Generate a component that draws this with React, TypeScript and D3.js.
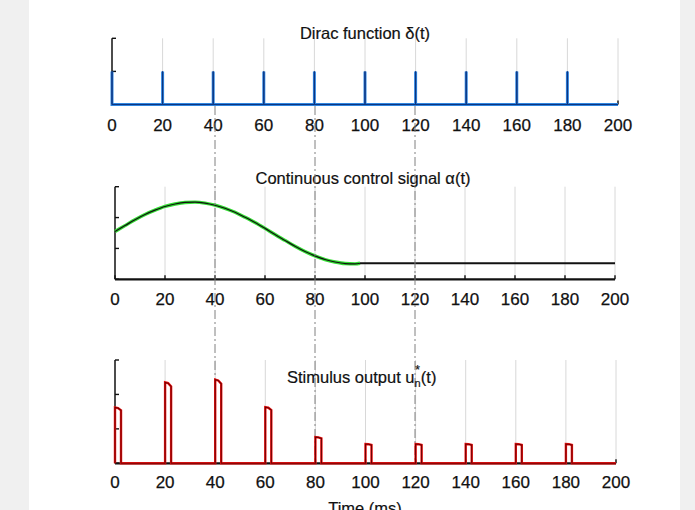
import React from "react";
import * as d3 from "d3";

// ---------- data ----------
const xTicks = [0, 20, 40, 60, 80, 100, 120, 140, 160, 180, 200];
const diracTimes = [0, 20, 40, 60, 80, 100, 120, 140, 160, 180];
const diracAmp = [1, 1, 1, 1, 1, 1, 1, 1, 1, 1];

const controlT = [0, 4, 8, 12, 16, 20, 24, 28, 32, 36, 40, 44, 48, 52, 56, 60, 64, 68, 72, 76, 80, 84, 88, 92, 96, 98];
const controlV = [1.55, 1.74, 1.93, 2.1, 2.24, 2.36, 2.44, 2.49, 2.5, 2.47, 2.4, 2.3, 2.17, 2.01, 1.84, 1.65, 1.45, 1.26, 1.07, 0.9, 0.76, 0.64, 0.56, 0.51, 0.5, 0.52];
const holdT = [98, 200];
const holdV = [0.52, 0.52];

const pulseTimes = [0, 20, 40, 60, 80, 100, 120, 140, 160, 180];
const pulseAmp = [1.62, 2.35, 2.43, 1.63, 0.76, 0.56, 0.56, 0.56, 0.56, 0.56];
const pulseWidth = 2.4;

const markerTimes = [40, 80, 120];

const yTicks1 = [0, 1, 2];
const yTicks2 = [0, 1, 2, 3];
const yTicks3 = [0, 1, 2, 3];

const titles = ["Dirac function δ(t)", "Continuous control signal α(t)", "Stimulus output u", "Time (ms)"];

const FONT = "'Liberation Sans', Arial, Helvetica, sans-serif";

type P = [number, number];

function Axes({ x, y, yTicks, gridTop, labelY }: { x: d3.ScaleLinear<number, number>; y: d3.ScaleLinear<number, number>; yTicks: number[]; gridTop: number; labelY: number }) {
  const y0 = y(0);
  return (
    <g>
      {xTicks.filter((t) => t > 0).map((t) => (
        <line key={"g" + t} x1={x(t)} x2={x(t)} y1={gridTop} y2={y0} stroke="#d8d8d8" strokeWidth={1} />
      ))}
      <line x1={x(0)} x2={x(200)} y1={y0} y2={y0} stroke="#111" strokeWidth={2.2} />
      {xTicks.map((t) => (
        <line key={"t" + t} x1={x(t)} x2={x(t)} y1={y0} y2={y0 - 4} stroke="#111" strokeWidth={1.4} />
      ))}
      <line x1={x(0)} x2={x(0)} y1={y(yTicks[yTicks.length - 1])} y2={y0} stroke="#111" strokeWidth={1.5} />
      {yTicks.map((v) => (
        <line key={"y" + v} x1={x(0)} x2={x(0) + 4} y1={y(v)} y2={y(v)} stroke="#111" strokeWidth={1.4} />
      ))}
      {xTicks.map((t) => (
        <text key={"l" + t} x={x(t)} y={labelY} textAnchor="middle" fontFamily={FONT} fontSize={17} fill="#111" stroke="#111" strokeWidth={0.25}>
          {t}
        </text>
      ))}
    </g>
  );
}

export default function App() {
  const x1 = d3.scaleLinear().domain([0, 200]).range([112, 618]);
  const y1 = d3.scaleLinear().domain([0, 2]).range([104.5, 38.3]);
  const x2 = d3.scaleLinear().domain([0, 200]).range([115, 615]);
  const y2 = d3.scaleLinear().domain([0, 3]).range([279.3, 186.7]);
  const x3 = d3.scaleLinear().domain([0, 200]).range([115, 616]);
  const y3 = d3.scaleLinear().domain([0, 3]).range([463.3, 360]);

  const diracPts: P[] = [];
  diracTimes.forEach((t, i) => {
    diracPts.push([t, 0], [t, diracAmp[i]], [t, 0]);
  });
  diracPts.push([200, 0]);
  const line1 = d3.line<P>().x((d) => x1(d[0])).y((d) => y1(d[1]));

  const ctrlPts: P[] = controlT.map((t, i) => [t, controlV[i]]);
  const holdPts: P[] = holdT.map((t, i) => [t, holdV[i]]);
  const line2 = d3.line<P>().x((d) => x2(d[0])).y((d) => y2(d[1])).curve(d3.curveMonotoneX);
  const line2s = d3.line<P>().x((d) => x2(d[0])).y((d) => y2(d[1]));

  const pulsePts: P[] = [];
  pulseTimes.forEach((t, i) => {
    const a = pulseAmp[i];
    pulsePts.push([t, 0], [t, a], [t + pulseWidth * 0.5, a * 0.99], [t + pulseWidth, a * 0.95], [t + pulseWidth, 0]);
  });
  pulsePts.push([200, 0]);
  const line3 = d3.line<P>().x((d) => x3(d[0])).y((d) => y3(d[1]));

  return (
    <>
      <style>{"body{margin:0;}"}</style>
      <svg width={695} height={510} style={{ display: "block" }}>
        <rect x={0} y={0} width={695} height={510} fill="#f0f0f0" />
        <rect x={29} y={0} width={651} height={510} fill="#ffffff" />

        {/* Panel 1 */}
        <Axes x={x1} y={y1} yTicks={yTicks1} gridTop={y1(2)} labelY={130.7} />
        <path d={line1(diracPts) || ""} fill="none" stroke="#2f86e0" strokeWidth={3} />
        <path d={line1(diracPts) || ""} fill="none" stroke="#0d3580" strokeWidth={1} />
        <text x={365} y={39} textAnchor="middle" fontFamily={FONT} fontSize={16.5} fill="#111" stroke="#111" strokeWidth={0.2}>
          {titles[0]}
        </text>

        {/* Panel 2 */}
        <Axes x={x2} y={y2} yTicks={yTicks2} gridTop={y2(3)} labelY={305} />
        <path d={line2(ctrlPts) || ""} fill="none" stroke="#33dd33" strokeWidth={3.4} />
        <path d={line2(ctrlPts) || ""} fill="none" stroke="#111" strokeWidth={1.2} />
        <path d={line2s(holdPts) || ""} fill="none" stroke="#111" strokeWidth={1.8} />
        <text x={363} y={184.3} textAnchor="middle" fontFamily={FONT} fontSize={16.5} fill="#111" stroke="#111" strokeWidth={0.2}>
          {titles[1]}
        </text>

        {/* Panel 3 */}
        <Axes x={x3} y={y3} yTicks={yTicks3} gridTop={y3(3)} labelY={488.3} />

        {markerTimes.map((t) => (
          <line key={"m" + t} x1={x2(t)} x2={x2(t)} y1={106} y2={y3(0)} stroke="#808080" strokeWidth={1} strokeDasharray="9,3,2,3" />
        ))}

        <path d={line3(pulsePts) || ""} fill="none" stroke="#f01414" strokeWidth={2.4} />
        <path d={line3(pulsePts) || ""} fill="none" stroke="#700000" strokeWidth={1.1} />
        <text x={287} y={382.7} fontFamily={FONT} fontSize={16.5} fill="#111" stroke="#111" strokeWidth={0.2}>
          <tspan>{titles[2]}</tspan>
          <tspan dy={4} fontSize={11}>n</tspan>
          <tspan dx={-5.5} dy={-13} fontSize={12}>*</tspan>
          <tspan dy={9} dx={1}>(t)</tspan>
        </text>

        <text x={365} y={514} textAnchor="middle" fontFamily={FONT} fontSize={16.5} fill="#111" stroke="#111" strokeWidth={0.2}>
          {titles[3]}
        </text>
      </svg>
    </>
  );
}
